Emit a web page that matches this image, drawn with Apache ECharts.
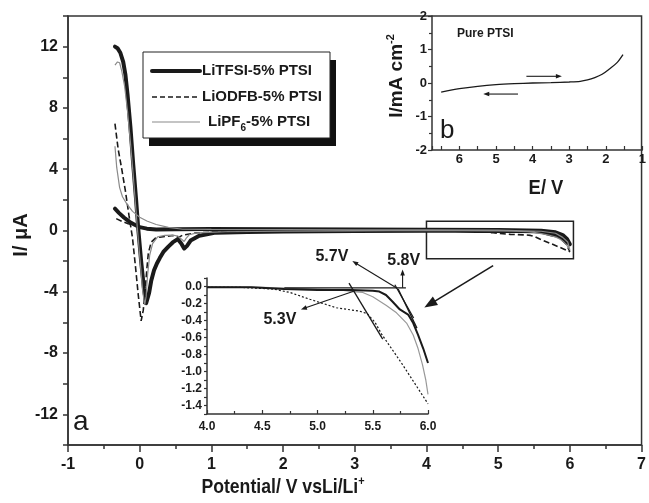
<!DOCTYPE html>
<html>
<head>
<meta charset="utf-8">
<script src="https://cdn.jsdelivr.net/npm/echarts@6/dist/echarts.min.js"></script>
<style>
html,body{margin:0;padding:0;background:#fff;}
#chart{width:649px;height:503px;}
</style>
</head>
<body>
<div id="chart"></div>
<script>
const FONT = '"Liberation Sans", Arial, Helvetica, sans-serif';
const INK = '#1a1a1a';

// ---- panel a: CV sweeps, potential (V vs Li/Li+) vs current (µA) ----
// low-voltage part of the first sweep, down to 4 V
const tfsiLow = [[-0.345,12.0],[-0.31,11.9],[-0.27,11.6],[-0.23,11.0],[-0.2,10.2],[-0.17,8.9],[-0.13,6.8],[-0.09,4.3],[-0.05,2.0],[-0.02,0.1],[0.02,-2.0],[0.06,-3.8],[0.09,-4.75],[0.11,-4.8],[0.13,-4.1],[0.16,-3.3],[0.2,-2.6],[0.24,-2.15],[0.28,-1.8],[0.33,-1.4],[0.4,-1.05],[0.46,-0.78],[0.53,-0.56],[0.58,-0.85],[0.62,-1.18],[0.66,-1.0],[0.71,-0.66],[0.83,-0.34],[1.06,-0.14],[1.5,-0.09],[2.0,-0.07],[3.0,-0.04]];
const odfbLow = [[-0.345,6.97],[-0.3,5.3],[-0.25,4.0],[-0.2,2.6],[-0.15,1.0],[-0.1,-0.5],[-0.06,-2.3],[-0.02,-4.2],[0.02,-5.9],[0.05,-5.2],[0.08,-3.7],[0.1,-2.5],[0.12,-1.5],[0.16,-0.76],[0.22,-0.5],[0.28,-0.43],[0.46,-0.33],[0.51,-0.38],[0.55,-0.43],[0.6,-0.3],[0.8,-0.15],[1.2,-0.08],[2.0,-0.05],[3.0,-0.03]];
const pf6Low = [[-0.345,10.8],[-0.31,11.0],[-0.28,10.95],[-0.25,10.4],[-0.21,9.4],[-0.17,7.8],[-0.13,5.8],[-0.09,3.6],[-0.06,1.8],[-0.03,0.0],[0.01,-2.2],[0.04,-3.9],[0.07,-4.85],[0.09,-4.3],[0.11,-2.9],[0.14,-1.6],[0.18,-0.85],[0.25,-0.42],[0.35,-0.32],[0.46,-0.3],[0.53,-0.36],[0.58,-0.55],[0.62,-0.72],[0.65,-0.5],[0.69,-0.28],[0.8,-0.16],[1.2,-0.08],[2.0,-0.05],[3.0,-0.03]];

// anodic onset region 4-6 V (also shown enlarged in the inset)
const tfsiHigh = [[4.0,-0.01],[4.4,-0.01],[4.7,-0.03],[5.0,-0.04],[5.3,-0.04],[5.5,-0.05],[5.56,-0.06],[5.62,-0.1],[5.68,-0.18],[5.745,-0.27],[5.82,-0.33],[5.866,-0.43],[5.91,-0.57],[5.957,-0.73],[6.0,-0.9]];
const odfbHigh = [[4.0,-0.01],[4.3,-0.01],[4.6,-0.03],[4.75,-0.07],[4.93,-0.15],[5.17,-0.25],[5.38,-0.29],[5.45,-0.32],[5.52,-0.42],[5.58,-0.56],[5.67,-0.73],[5.76,-0.9],[5.84,-1.06],[5.92,-1.22],[6.0,-1.38]];
const pf6High = [[4.0,0.0],[4.5,-0.01],[5.0,-0.03],[5.2,-0.04],[5.32,-0.06],[5.41,-0.07],[5.5,-0.12],[5.62,-0.22],[5.715,-0.31],[5.806,-0.43],[5.866,-0.57],[5.91,-0.73],[5.95,-0.92],[5.98,-1.1],[6.0,-1.27]];

// return sweeps from 6 V back to -0.35 V
const tfsiReturn = [[5.96,-0.55],[5.9,-0.3],[5.8,-0.12],[5.6,-0.02],[5.0,0.03],[4.0,0.05],[3.0,0.06],[2.0,0.08],[1.0,0.1],[0.5,0.08],[0.23,0.06],[0.1,0.12],[0.0,0.22],[-0.07,0.38],[-0.14,0.56],[-0.22,0.85],[-0.29,1.15],[-0.345,1.42]];
const odfbReturn = [[5.95,-0.9],[5.85,-0.45],[5.7,-0.15],[5.4,-0.04],[5.0,0.0],[4.0,0.02],[3.0,0.03],[2.0,0.03],[1.0,0.04],[0.5,0.04],[0.2,0.1],[0.05,0.2],[-0.05,0.33],[-0.16,0.44],[-0.25,0.6],[-0.32,0.76],[-0.345,0.87]];
const pf6Return = [[5.97,-0.75],[5.9,-0.45],[5.8,-0.18],[5.6,-0.05],[5.0,0.02],[4.0,0.04],[3.0,0.05],[2.0,0.06],[1.0,0.07],[0.6,0.08],[0.4,0.2],[0.23,0.39],[0.1,0.62],[0.0,0.87],[-0.1,1.25],[-0.18,1.74],[-0.24,2.2],[-0.28,2.8],[-0.32,4.1],[-0.345,5.5]];

// region enlarged in the inset (V, µA corners)
const zoomBox = [[4.0, 0.6], [6.05, -1.85]];
// pointer from the box to the inset: [fromV, fromI, toV, toI]
const zoomPointer = [[4.93, -2.29, 3.97, -5.03]];

// ---- inset: onset determination ----
const tangentLines = [[4.7,-0.015,5.8,-0.015],[5.285,0.04,5.59,-0.62],[5.70,0.02,5.87,-0.37],[5.73,-0.03,5.90,-0.49]];
const onsetArrows = [[5.72,-0.02,5.315,0.30],[5.77,-0.015,5.77,0.20],[5.34,-0.05,4.85,-0.27]];
const onsetLabels = ['5.7V', '5.8V', '5.3V'];
const onsetLabelPos = [[5.13,0.35],[5.78,0.31],[4.66,-0.39]];

// ---- panel b: pure PTSI (E / V vs I / mA cm-2) ----
const pureScan = [[6.5,-0.27],[6.0,-0.17],[5.5,-0.1],[5.0,-0.05],[4.5,-0.02],[4.0,0.0],[3.5,0.01],[3.0,0.03],[2.7,0.05],[2.5,0.09],[2.3,0.16],[2.1,0.26],[1.9,0.42],[1.7,0.6],[1.53,0.85]];
const sweepArrows = [[4.17,0.2,3.2,0.2],[4.4,-0.33,5.35,-0.33]];

const seriesNames = ['LiTFSI-5% PTSI', 'LiODFB-5% PTSI', 'LiPF6-5% PTSI'];

function arrowSeries(data, gridIndex, head, width) {
  return {
    type: 'custom',
    xAxisIndex: gridIndex, yAxisIndex: gridIndex,
    clip: false, silent: true, z: 5,
    data: data,
    renderItem: function (params, api) {
      const a = api.coord([api.value(0), api.value(1)]);
      const b = api.coord([api.value(2), api.value(3)]);
      const ang = Math.atan2(b[1] - a[1], b[0] - a[0]);
      const children = [];
      let ex = b[0], ey = b[1];
      if (head > 0) {
        ex = b[0] - Math.cos(ang) * head * 0.7;
        ey = b[1] - Math.sin(ang) * head * 0.7;
      }
      children.push({ type: 'line', shape: { x1: a[0], y1: a[1], x2: ex, y2: ey }, style: { stroke: INK, lineWidth: width } });
      if (head > 0) {
        const hw = head * 0.38;
        const bx = b[0] - Math.cos(ang) * head, by = b[1] - Math.sin(ang) * head;
        children.push({
          type: 'polygon',
          shape: { points: [[b[0], b[1]], [bx - Math.sin(ang) * hw, by + Math.cos(ang) * hw], [bx + Math.sin(ang) * hw, by - Math.cos(ang) * hw]] },
          style: { fill: INK }
        });
      }
      return { type: 'group', children: children };
    }
  };
}

const axisText = { fontFamily: FONT, fontWeight: 'bold', color: INK };
const axisLine = { show: true, onZero: false, lineStyle: { color: '#333', width: 1.5 } };

const chart = echarts.init(document.getElementById('chart'), null, { renderer: 'canvas' });

const option = {
  animation: false,
  backgroundColor: '#fff',
  grid: [
    { left: 68, top: 16, width: 580, height: 429, show: true, borderColor: '#333', borderWidth: 1.5, backgroundColor: 'transparent' },
    { left: 207, top: 278, width: 221, height: 136 },
    { left: 432, top: 16, width: 216, height: 134 }
  ],
  xAxis: [
    { gridIndex: 0, type: 'value', min: -1, max: 7, interval: 1,
      axisLine: axisLine, splitLine: { show: false },
      axisTick: { show: true, inside: false, length: 7, lineStyle: { color: '#333', width: 1.5 } },
      minorTick: { show: true, splitNumber: 2, length: 4, lineStyle: { color: '#333', width: 1.5 } },
      axisLabel: Object.assign({ fontSize: 16, margin: 12 }, axisText) },
    { gridIndex: 1, type: 'value', min: 4, max: 6, interval: 0.5,
      axisLine: axisLine, splitLine: { show: false },
      axisTick: { show: true, inside: true, length: 4, lineStyle: { color: '#333', width: 1.2 } },
      minorTick: { show: true, splitNumber: 2, length: 3, lineStyle: { color: '#333', width: 1.2 } },
      axisLabel: Object.assign({ fontSize: 12, margin: 7, formatter: v => v.toFixed(1) }, axisText) },
    { gridIndex: 2, type: 'value', min: 1, max: 6.75, interval: 0.5, inverse: true,
      axisLine: axisLine, splitLine: { show: false },
      axisTick: { show: true, inside: true, length: 4, lineStyle: { color: '#333', width: 1.2 } },
      axisLabel: Object.assign({ fontSize: 13, margin: 3, formatter: v => (Math.abs(v - Math.round(v)) < 1e-6 ? String(Math.round(v)) : '') }, axisText) }
  ],
  yAxis: [
    { gridIndex: 0, type: 'value', min: -14, max: 14, interval: 2,
      axisLine: axisLine, splitLine: { show: false },
      axisTick: { show: true, inside: false, length: 5, lineStyle: { color: '#333', width: 1.5 } },
      axisLabel: Object.assign({ fontSize: 16, margin: 10, formatter: v => (Math.round(v) % 4 === 0 ? String(v) : '') }, axisText) },
    { gridIndex: 1, type: 'value', min: -1.5, max: 0.1, interval: 0.1,
      axisLine: axisLine, splitLine: { show: false },
      axisTick: { show: true, inside: false, length: 3, lineStyle: { color: '#333', width: 1.2 } },
      axisLabel: Object.assign({ fontSize: 12, margin: 5, formatter: v => {
        const k = Math.round(v * 10);
        return (k % 2 === 0 && k <= 0 && k >= -14) ? (k / 10).toFixed(1) : '';
      } }, axisText) },
    { gridIndex: 2, type: 'value', min: -2, max: 2, interval: 1,
      axisLine: axisLine, splitLine: { show: false },
      axisTick: { show: true, inside: false, length: 4, lineStyle: { color: '#333', width: 1.2 } },
      minorTick: { show: true, splitNumber: 2, length: 3, lineStyle: { color: '#333', width: 1.2 } },
      axisLabel: Object.assign({ fontSize: 13, margin: 5 }, axisText) }
  ],
  series: [
    { name: seriesNames[0], type: 'line', xAxisIndex: 0, yAxisIndex: 0, showSymbol: false, symbol: 'none',
      data: tfsiLow.concat(tfsiHigh, tfsiReturn),
      lineStyle: { color: INK, width: 4, cap: 'round', join: 'round' },
      markArea: { silent: true, itemStyle: { color: 'rgba(0,0,0,0)', borderColor: '#222', borderWidth: 1.5 },
        data: [[{ coord: zoomBox[0] }, { coord: zoomBox[1] }]] } },
    { name: seriesNames[1], type: 'line', xAxisIndex: 0, yAxisIndex: 0, showSymbol: false, symbol: 'none',
      data: odfbLow.concat(odfbHigh, odfbReturn),
      lineStyle: { color: INK, width: 1.6, type: [6, 3] } },
    { name: seriesNames[2], type: 'line', xAxisIndex: 0, yAxisIndex: 0, showSymbol: false, symbol: 'none',
      data: pf6Low.concat(pf6High, pf6Return),
      lineStyle: { color: '#8a8a8a', width: 1.2 } },
    arrowSeries(zoomPointer, 0, 13, 1.6),

    // inset
    { type: 'line', xAxisIndex: 1, yAxisIndex: 1, showSymbol: false, symbol: 'none', data: pf6High,
      lineStyle: { color: '#999', width: 1.2 } },
    { type: 'line', xAxisIndex: 1, yAxisIndex: 1, showSymbol: false, symbol: 'none', data: odfbHigh,
      lineStyle: { color: INK, width: 1.2, type: [2, 2] } },
    { type: 'line', xAxisIndex: 1, yAxisIndex: 1, showSymbol: false, symbol: 'none', data: tfsiHigh,
      lineStyle: { color: INK, width: 2 } },
    arrowSeries(tangentLines, 1, 0, 1.3),
    arrowSeries(onsetArrows, 1, 6, 1.1),
    { type: 'custom', xAxisIndex: 1, yAxisIndex: 1, clip: false, silent: true, z: 6,
      data: onsetLabelPos,
      renderItem: function (params, api) {
        const p = api.coord([api.value(0), api.value(1)]);
        return { type: 'text', x: p[0], y: p[1],
          style: { text: onsetLabels[params.dataIndex], font: 'bold 16px ' + FONT, fill: INK, align: 'center', verticalAlign: 'middle' } };
      } },

    // panel b
    { type: 'line', xAxisIndex: 2, yAxisIndex: 2, showSymbol: false, symbol: 'none', smooth: 0.3, data: pureScan,
      lineStyle: { color: INK, width: 1.3 } },
    arrowSeries(sweepArrows, 2, 6, 1.1)
  ],
  graphic: [
    // legend with drop shadow
    { type: 'rect', z: 50, shape: { x: 149, y: 60, width: 187, height: 86 }, style: { fill: '#111' } },
    { type: 'rect', z: 51, shape: { x: 143, y: 52, width: 187, height: 86 }, style: { fill: '#fff', stroke: '#222', lineWidth: 1 } },
    { type: 'line', z: 52, shape: { x1: 152, y1: 71, x2: 200, y2: 71 }, style: { stroke: INK, lineWidth: 4, lineCap: 'round' } },
    { type: 'line', z: 52, shape: { x1: 152, y1: 97, x2: 200, y2: 97 }, style: { stroke: INK, lineWidth: 1.5, lineDash: [5, 3] } },
    { type: 'line', z: 52, shape: { x1: 152, y1: 122, x2: 200, y2: 122 }, style: { stroke: '#8a8a8a', lineWidth: 1.2 } },
    { type: 'text', z: 52, x: 202, y: 71, style: { text: seriesNames[0], font: 'bold 15px ' + FONT, fill: INK, verticalAlign: 'middle' } },
    { type: 'text', z: 52, x: 202, y: 97, style: { text: seriesNames[1], font: 'bold 15px ' + FONT, fill: INK, verticalAlign: 'middle' } },
    { type: 'text', z: 52, x: 208, y: 122, style: {
      text: '{m|LiPF}{s|6}{m|-5% PTSI}', verticalAlign: 'middle', fill: INK,
      rich: { m: { font: 'bold 15px ' + FONT, fill: INK, lineHeight: 18 },
              s: { font: 'bold 10px ' + FONT, fill: INK, lineHeight: 10, padding: [12, 0, 0, 0] } } } },

    // axis titles
    { type: 'text', x: 283, y: 487, scaleX: 0.84, style: {
      text: '{m|Potential/ V vsLi/Li}{s|+}', align: 'center', verticalAlign: 'middle', fill: INK,
      rich: { m: { font: 'bold 21px ' + FONT, fill: INK, lineHeight: 24 },
              s: { font: 'bold 13px ' + FONT, fill: INK, lineHeight: 12, padding: [0, 0, 12, 0] } } } },
    { type: 'text', x: 21, y: 235, rotation: Math.PI / 2, style: { text: 'I/ μA', font: 'bold 20px ' + FONT, fill: INK, align: 'center', verticalAlign: 'middle' } },
    { type: 'text', x: 546, y: 188, scaleX: 0.92, style: { text: 'E/ V', font: 'bold 20px ' + FONT, fill: INK, align: 'center', verticalAlign: 'middle' } },
    { type: 'text', x: 397, y: 76, rotation: Math.PI / 2, style: {
      text: '{m|I/mA cm}{s|-2}', align: 'center', verticalAlign: 'middle', fill: INK,
      rich: { m: { font: 'bold 19px ' + FONT, fill: INK, lineHeight: 22 },
              s: { font: 'bold 11px ' + FONT, fill: INK, lineHeight: 11, padding: [0, 0, 12, 0] } } } },

    // panel tags
    { type: 'text', x: 73, y: 422, style: { text: 'a', font: '28px ' + FONT, fill: INK, verticalAlign: 'middle' } },
    { type: 'text', x: 440, y: 131, style: { text: 'b', font: '26px ' + FONT, fill: INK, verticalAlign: 'middle' } },
    { type: 'text', x: 457, y: 34, style: { text: 'Pure PTSI', font: 'bold 12px ' + FONT, fill: INK, verticalAlign: 'middle' } }
  ]
};

chart.setOption(option);
</script>
</body>
</html>
